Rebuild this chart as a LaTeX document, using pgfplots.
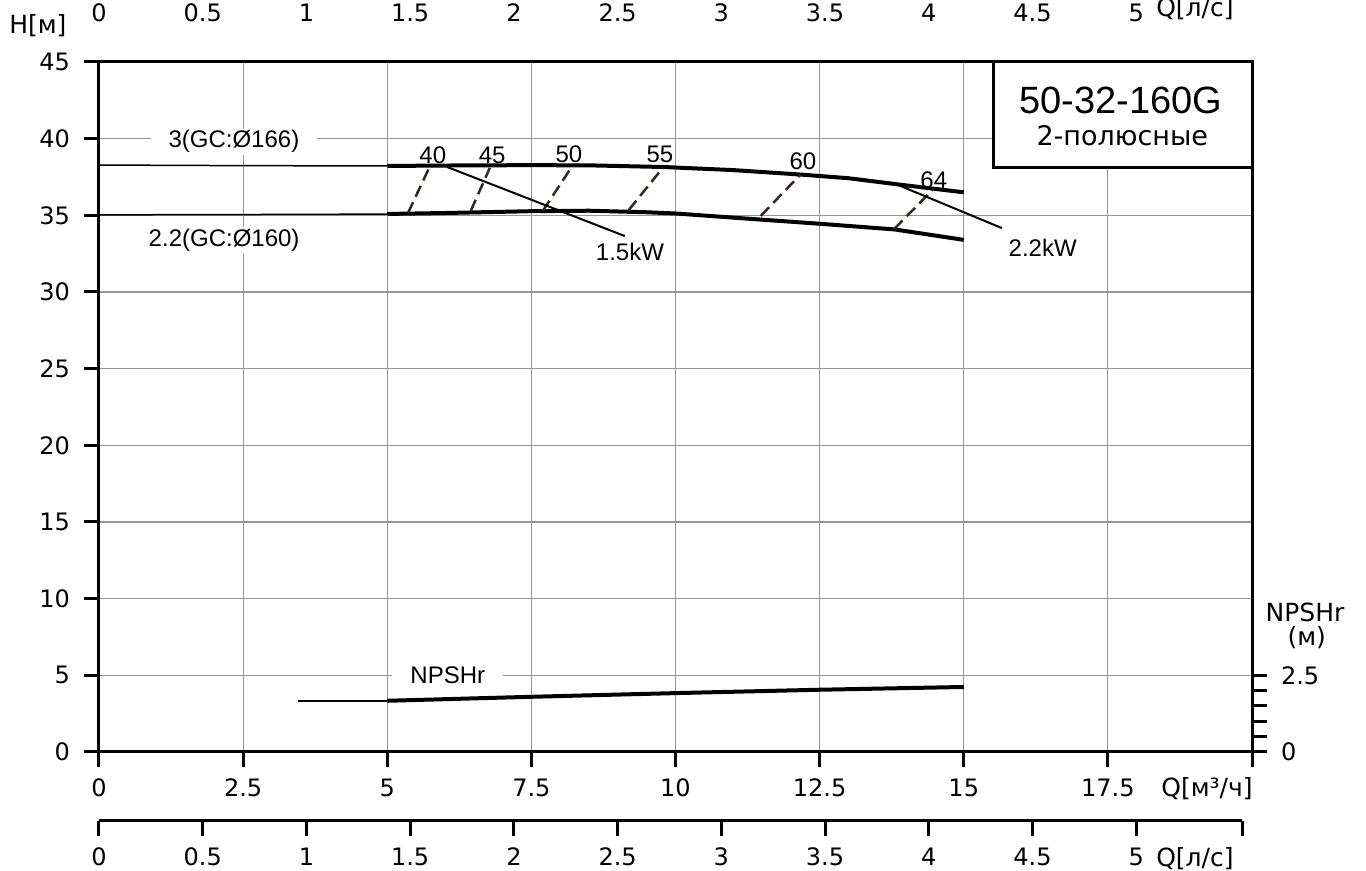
\documentclass[border=0pt]{standalone}
\usepackage{pgfplots}
\pgfplotsset{compat=1.18}
\usepackage{fontspec}
\setmainfont{Liberation Sans}
\newfontfamily\tickfont{DejaVu Sans}
\definecolor{effc}{RGB}{55,38,30}
\definecolor{gridc}{RGB}{150,150,150}
\begin{document}
\begin{tikzpicture}
\pgfplotsset{
  every axis/.append style={
    /pgf/number format/assume math mode=true,
    scale only axis,
    axis line style={line width=1.5pt,-},
    tick align=outside,
    major tick length=7.5pt, minor tick length=7.5pt,
    every tick/.style={black,line width=1.5pt},
    ticklabel style={font=\tickfont\fontsize{12}{14}\selectfont},
    xticklabel style={yshift=-2.5pt},
  }
}
% ---------------- main axis ----------------
\begin{axis}[at={(0,0)}, anchor=south west, width=576.5pt, height=345pt,
  xmin=0, xmax=20, ymin=0, ymax=45,
  xtick={0,2.5,...,17.5}, extra x ticks={20}, extra x tick labels={},
  extra x tick style={grid=none},
  ytick={0,5,...,45},
  yticklabel style={xshift=-3.5pt},
  xtick pos=bottom, ytick pos=left,
  grid=major, grid style={draw=gridc, line width=0.6pt},
  clip=false]
% head curves
\addplot[line width=0.75pt] coordinates {(0,38.28) (2.5,38.24) (5,38.22)};
\addplot[line width=2pt] coordinates {(5,38.22) (6.5,38.26) (7.5,38.27) (8.5,38.26) (9.8,38.15) (11,37.95) (12.2,37.65) (13,37.42) (13.85,37.02) (15,36.5)};
\addplot[line width=0.75pt] coordinates {(0,35.03) (2.5,35.05) (5,35.08)};
\addplot[line width=2pt] coordinates {(5,35.09) (6,35.15) (7.5,35.27) (8.5,35.3) (9.5,35.2) (10,35.12) (11,34.85) (12.5,34.45) (13.8,34.08) (15,33.4)};
% efficiency lines
\addplot[line width=1.25pt, effc, dash pattern=on 6pt off 3pt] coordinates {(5.36,35.15) (5.74,38.2)};
\addplot[line width=1.25pt, effc, dash pattern=on 6pt off 3pt] coordinates {(6.45,35.3) (6.78,38.1)};
\addplot[line width=1.25pt, effc, dash pattern=on 6pt off 3pt] coordinates {(7.70,35.3) (8.19,38.1)};
\addplot[line width=1.25pt, effc, dash pattern=on 6pt off 3pt] coordinates {(9.19,35.35) (9.78,38.1)};
\addplot[line width=1.25pt, effc, dash pattern=on 6pt off 3pt] coordinates {(11.48,34.96) (12.16,37.63)};
\addplot[line width=1.25pt, effc, dash pattern=on 6pt off 3pt] coordinates {(13.79,34.1) (14.47,36.7)};
% power lines
\addplot[line width=1pt] coordinates {(6.04,38.15) (9.12,33.65)};
\addplot[line width=1pt] coordinates {(13.86,36.98) (15.66,34.17)};
% labels
\node[fill=white, inner xsep=9pt, inner ysep=1pt, font=\fontsize{12}{14}\selectfont] at (axis cs:2.34,39.8) {3(GC:Ø166)};
\node[fill=white, inner xsep=2pt, inner ysep=1pt, font=\fontsize{12}{14}\selectfont] at (axis cs:2.17,33.4) {2.2(GC:Ø160)};
\node[fill=white, inner xsep=9pt, inner ysep=1pt, font=\fontsize{12}{14}\selectfont] at (axis cs:6.05,5.0) {NPSHr};
\node[font=\fontsize{12}{14}\selectfont] at (axis cs:5.79,38.93) {40};
\node[font=\fontsize{12}{14}\selectfont] at (axis cs:6.82,38.93) {45};
\node[font=\fontsize{12}{14}\selectfont] at (axis cs:8.15,39.0) {50};
\node[font=\fontsize{12}{14}\selectfont] at (axis cs:9.73,39.0) {55};
\node[font=\fontsize{12}{14}\selectfont] at (axis cs:12.21,38.54) {60};
\node[font=\fontsize{12}{14}\selectfont] at (axis cs:14.48,37.3) {64};
\node[font=\fontsize{12}{14}\selectfont] at (axis cs:9.21,32.6) {1.5kW};
\node[font=\fontsize{12}{14}\selectfont] at (axis cs:16.37,32.87) {2.2kW};
% title box
\draw[line width=1.5pt, fill=white] (axis cs:15.51,45) rectangle (axis cs:20,38.15);
\node[font=\fontsize{19}{22}\selectfont] at (axis cs:17.73,42.52) {50-32-160G};
\node[font=\tickfont\fontsize{13.5}{16}\selectfont] at (axis cs:17.75,40.17) {2-полюсные};
% axis names
\node[font=\tickfont\fontsize{12.5}{14}\selectfont] at (axis cs:19.22,-2.4) {Q[м³/ч]};
\node[font=\tickfont\fontsize{12.5}{14}\selectfont] at (axis cs:19.01,-6.95) {Q[л/с]};
\node[font=\tickfont\fontsize{12.5}{14}\selectfont] at (axis cs:19.01,48.45) {Q[л/с]};
\node[font=\tickfont\fontsize{12.5}{14}\selectfont] at (axis cs:-1.06,47.4) {H[м]};
\node[font=\tickfont\fontsize{12.5}{14}\selectfont] at (axis cs:20.92,9.13) {NPSHr};
\node[font=\tickfont\fontsize{12.5}{14}\selectfont] at (axis cs:20.95,7.43) {(м)};
\end{axis}
% ---------------- NPSH axis (right) ----------------
\begin{axis}[at={(0,0)}, anchor=south west, width=576.5pt, height=345pt,
  xmin=0, xmax=20, ymin=0, ymax=22.5,
  hide x axis, axis y line*=right,
  ytick={0,2.5}, minor ytick={0.5,1,1.5,2},
  yticklabel style={xshift=3.5pt, /pgf/number format/.cd, fixed, precision=1},
  clip=false]
\addplot[line width=0.75pt] coordinates {(3.45,1.67) (5,1.67)};
\addplot[line width=2pt] coordinates {(5,1.67) (7.5,1.80) (10,1.92) (12.5,2.03) (15,2.12)};
\end{axis}
% ---------------- l/s axis (bottom) ----------------
\begin{axis}[at={(0,-34.5pt)}, anchor=south west, width=571.5pt, height=10pt,
  xmin=0, xmax=5.51, ymin=0, ymax=1,
  hide y axis, axis x line*=bottom,
  xtick={0,0.5,...,5}, extra x ticks={5.51}, extra x tick labels={}]
\addplot[draw=none] coordinates {(0,0.5)};
\end{axis}
% ---------------- l/s axis (top, cut off) ----------------
\begin{axis}[at={(0,387.5pt)}, anchor=south west, width=571.5pt, height=10pt,
  xmin=0, xmax=5.51, ymin=0, ymax=1,
  hide y axis, axis x line*=bottom,
  xtick={0,0.5,...,5}, extra x ticks={5.51}, extra x tick labels={}]
\addplot[draw=none] coordinates {(0,0.5)};
\end{axis}
\pgfresetboundingbox
\path[use as bounding box] (-49.5pt,-59.5pt) rectangle (633.5pt,376pt);
\end{tikzpicture}
\end{document}
